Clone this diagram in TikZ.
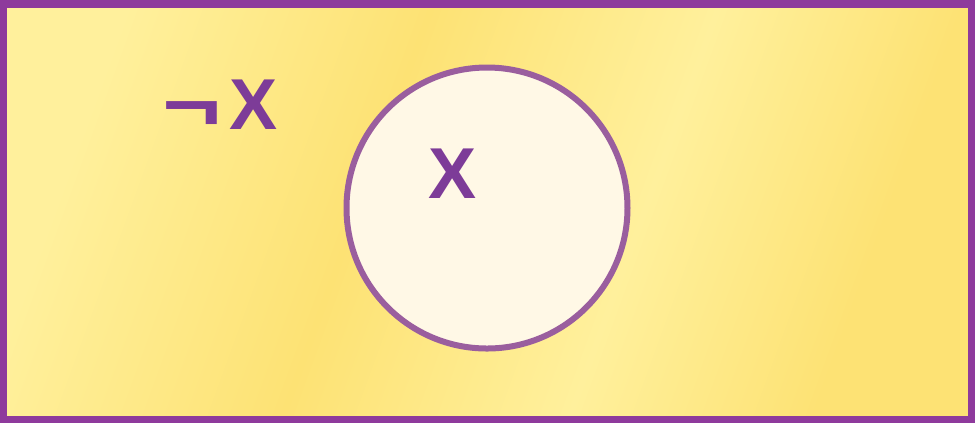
\documentclass[tikz,border=0pt]{standalone}
\usepackage{fontspec}
\setmainfont{Liberation Sans}
\usepackage{tikz}

\definecolor{goldlight}{HTML}{FFF09C}
\definecolor{golddark}{HTML}{FDE274}
\definecolor{frameviolet}{HTML}{8E3A9C}
\definecolor{ringviolet}{HTML}{9A5E9E}
\definecolor{labelviolet}{HTML}{7D3C98}
\definecolor{setcream}{HTML}{FFF8E6}

\pgfdeclarehorizontalshading{venngold}{100bp}{
  color(0bp)=(goldlight); color(25bp)=(goldlight);
  color(42.5bp)=(golddark); color(59bp)=(goldlight);
  color(73bp)=(golddark); color(100bp)=(golddark)}

\begin{document}
\begin{tikzpicture}[x=0.01cm, y=-0.01cm]
  \pgfmathsetmacro{\w}{975}   % picture width
  \pgfmathsetmacro{\h}{423}   % picture height

  \tikzset{
    universe/.style={draw=frameviolet, line width=7.5*0.01cm, shading=venngold, shading angle=-20},
    set circle/.style={circle, draw=ringviolet, fill=setcream, line width=6*0.01cm,
                       minimum size=281*0.01cm, inner sep=0pt},
    set label/.style={text=labelviolet, font=\fontsize{20.5}{24}\selectfont\bfseries, inner sep=0pt},
  }

  \useasboundingbox (0,0) rectangle (\w,\h);

  % universe of discourse
  \path[universe] (3.75,3.75) rectangle ({\w-3.75},{\h-3.75});

  % the set X
  \node[set circle] (setX) at (487,208) {};

  % labels
  \node[set label] (inX)  at (453,174) {X};
  \node[set label] (notX) at (220,105) {\scalebox{1.4}[1]{¬}\hspace{0.12em}X};
\end{tikzpicture}
\end{document}
